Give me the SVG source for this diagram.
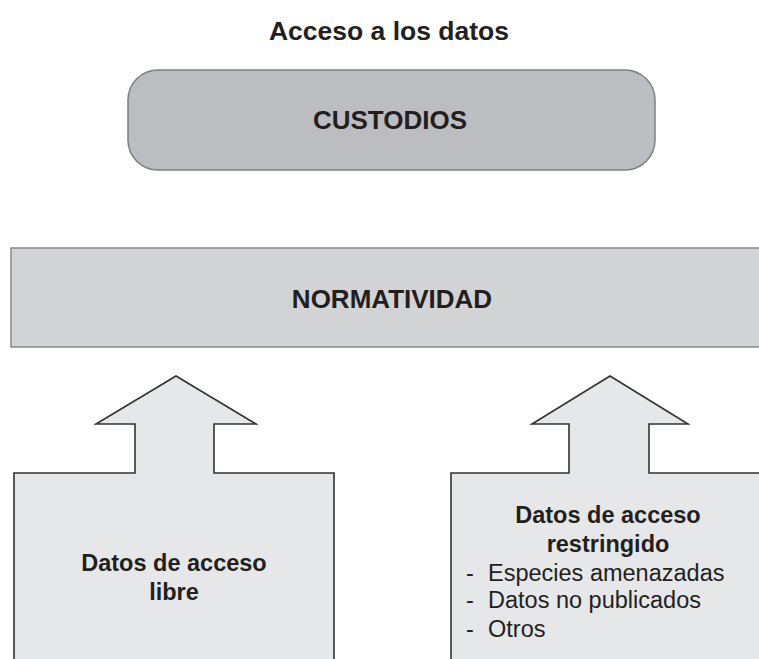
<svg xmlns="http://www.w3.org/2000/svg" width="759" height="659" viewBox="0 0 759 659">
<style>
text{font-family:"Liberation Sans",Arial,Helvetica,sans-serif;fill:#231f20}
.b{font-weight:bold}
.arrow{fill:#e6e7e8;stroke:#333;stroke-width:1.6;stroke-linejoin:miter}
</style>
<rect width="759" height="659" fill="#fff"/>
<text class="b" x="389" y="40" font-size="26.5" text-anchor="middle">Acceso a los datos</text>
<g id="custodios">
<rect x="128" y="70" width="527" height="100" rx="30" ry="30" fill="#bcbdc0" stroke="#7f7f80" stroke-width="1.5"/>
<text class="b" x="390" y="129" font-size="26" text-anchor="middle">CUSTODIOS</text>
</g>
<g id="normatividad">
<rect x="11" y="248" width="760" height="99" fill="#d1d3d4" stroke="#8a8a8c" stroke-width="1.5"/>
<text class="b" x="392" y="308" font-size="26" text-anchor="middle">NORMATIVIDAD</text>
</g>
<g id="libre">
<path class="arrow" d="M14,665 L14,473 L135,473 L135,424 L96,424 L176,376 L256,424 L214,424 L214,473 L334,473 L334,665"/>
<text class="b" x="174" y="571" font-size="23.5" text-anchor="middle">Datos de acceso</text>
<text class="b" x="174" y="600" font-size="23.5" text-anchor="middle">libre</text>
</g>
<g id="restringido">
<path class="arrow" d="M451,665 L451,473 L569,473 L569,424 L532,424 L610,376 L688,424 L649,424 L649,473 L765,473 L765,665"/>
<text class="b" x="608" y="523" font-size="23.5" text-anchor="middle">Datos de acceso</text>
<text class="b" x="608" y="552" font-size="23.5" text-anchor="middle">restringido</text>
<text x="466" y="581" font-size="23.5">-</text>
<text x="488" y="581" font-size="23.5">Especies amenazadas</text>
<text x="466" y="608" font-size="23.5">-</text>
<text x="488" y="608" font-size="23.5">Datos no publicados</text>
<text x="466" y="637" font-size="23.5">-</text>
<text x="488" y="637" font-size="23.5">Otros</text>
</g>
<g id="connectors"/>
</svg>
